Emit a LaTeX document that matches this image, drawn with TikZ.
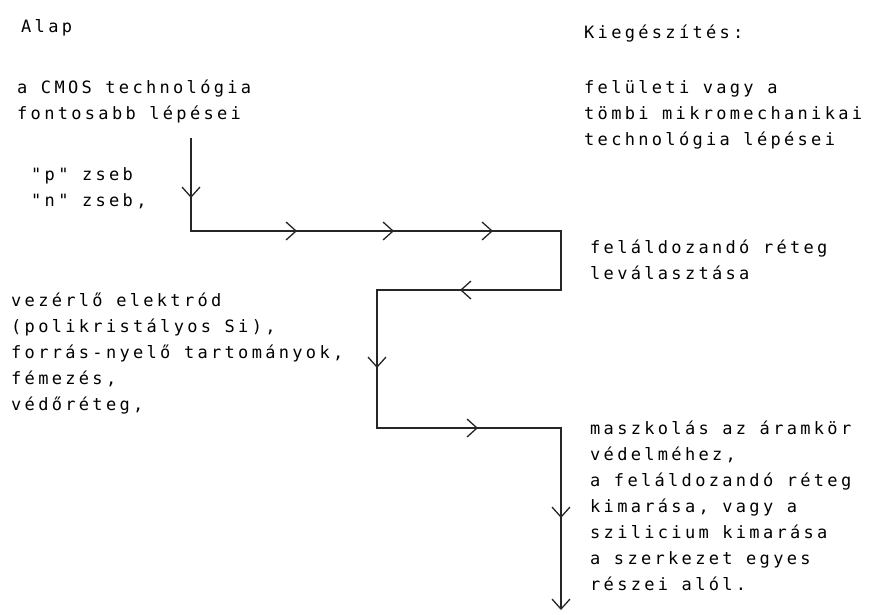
\documentclass[tikz,border=0pt]{standalone}
\usepackage{fontspec}
\newfontfamily\monotxt[LetterSpace=19.5]{DejaVu Sans Mono}
\usetikzlibrary{arrows.meta,decorations.markings}
\tikzset{
  txt/.style={anchor=base west, inner sep=0pt, font=\monotxt\fontsize{17}{26}\selectfont, text=black},
  vtip/.tip={Straight Barb[length=10pt,width=18pt,line width=1.3pt]},
  flow/.style={draw=black!85, line width=1.3pt, line join=miter, -{vtip},
    postaction={decorate},
    decoration={markings,
      mark=at position 60pt with {\arrow{vtip}},
      mark=at position 199pt with {\arrow{vtip}},
      mark=at position 296pt with {\arrow{vtip}},
      mark=at position 395pt with {\arrow{vtip}},
      mark=at position 623pt with {\arrow{vtip}},
      mark=at position 784pt with {\arrow{vtip}},
      mark=at position 945pt with {\arrow{vtip}},
      mark=at position 1118pt with {\arrow{vtip}}}}
}
\begin{document}
\begin{tikzpicture}[x=1pt,y=-1pt]
\useasboundingbox[fill=white] (0,0) rectangle (872,614);
% left texts
\node[txt] (alap) at (21,32) {Alap};
\node[txt] (cmos1) at (17,93) {a CMOS technológia};
\node[txt] (cmos2) at (17,119) {fontosabb lépései};
\node[txt] (p) at (31,180) {"p" zseb};
\node[txt] (n) at (31,206) {"n" zseb,};
\node[txt] (v1) at (11,306) {vezérlő elektród};
\node[txt] (v2) at (11,332) {(polikristályos Si),};
\node[txt] (v3) at (11,358) {forrás-nyelő tartományok,};
\node[txt] (v4) at (11,384) {fémezés,};
\node[txt] (v5) at (11,410) {védőréteg,};
% right texts
\node[txt] (kieg) at (584,38) {Kiegészítés:};
\node[txt] (r1) at (584,93) {felületi vagy a};
\node[txt] (r2) at (584,119) {tömbi mikromechanikai};
\node[txt] (r3) at (584,145) {technológia lépései};
\node[txt] (f1) at (590,253) {feláldozandó réteg};
\node[txt] (f2) at (590,279) {leválasztása};
\node[txt] (m1) at (590,434) {maszkolás az áramkör};
\node[txt] (m2) at (590,460) {védelméhez,};
\node[txt] (m3) at (590,486) {a feláldozandó réteg};
\node[txt] (m4) at (590,512) {kimarása, vagy a};
\node[txt] (m5) at (590,538) {szilicium kimarása};
\node[txt] (m6) at (590,564) {a szerkezet egyes};
\node[txt] (m7) at (590,590) {részei alól.};
% flow path
\coordinate (s) at (191,138);
\coordinate (c1) at (191,231);
\coordinate (c2) at (561,231);
\coordinate (c3) at (561,290);
\coordinate (c4) at (377,290);
\coordinate (c5) at (377,428);
\coordinate (c6) at (561,428);
\coordinate (e) at (561,610);
\draw[flow] (s) -- (c1) -- (c2) -- (c3) -- (c4) -- (c5) -- (c6) -- (e);
\end{tikzpicture}
\end{document}
